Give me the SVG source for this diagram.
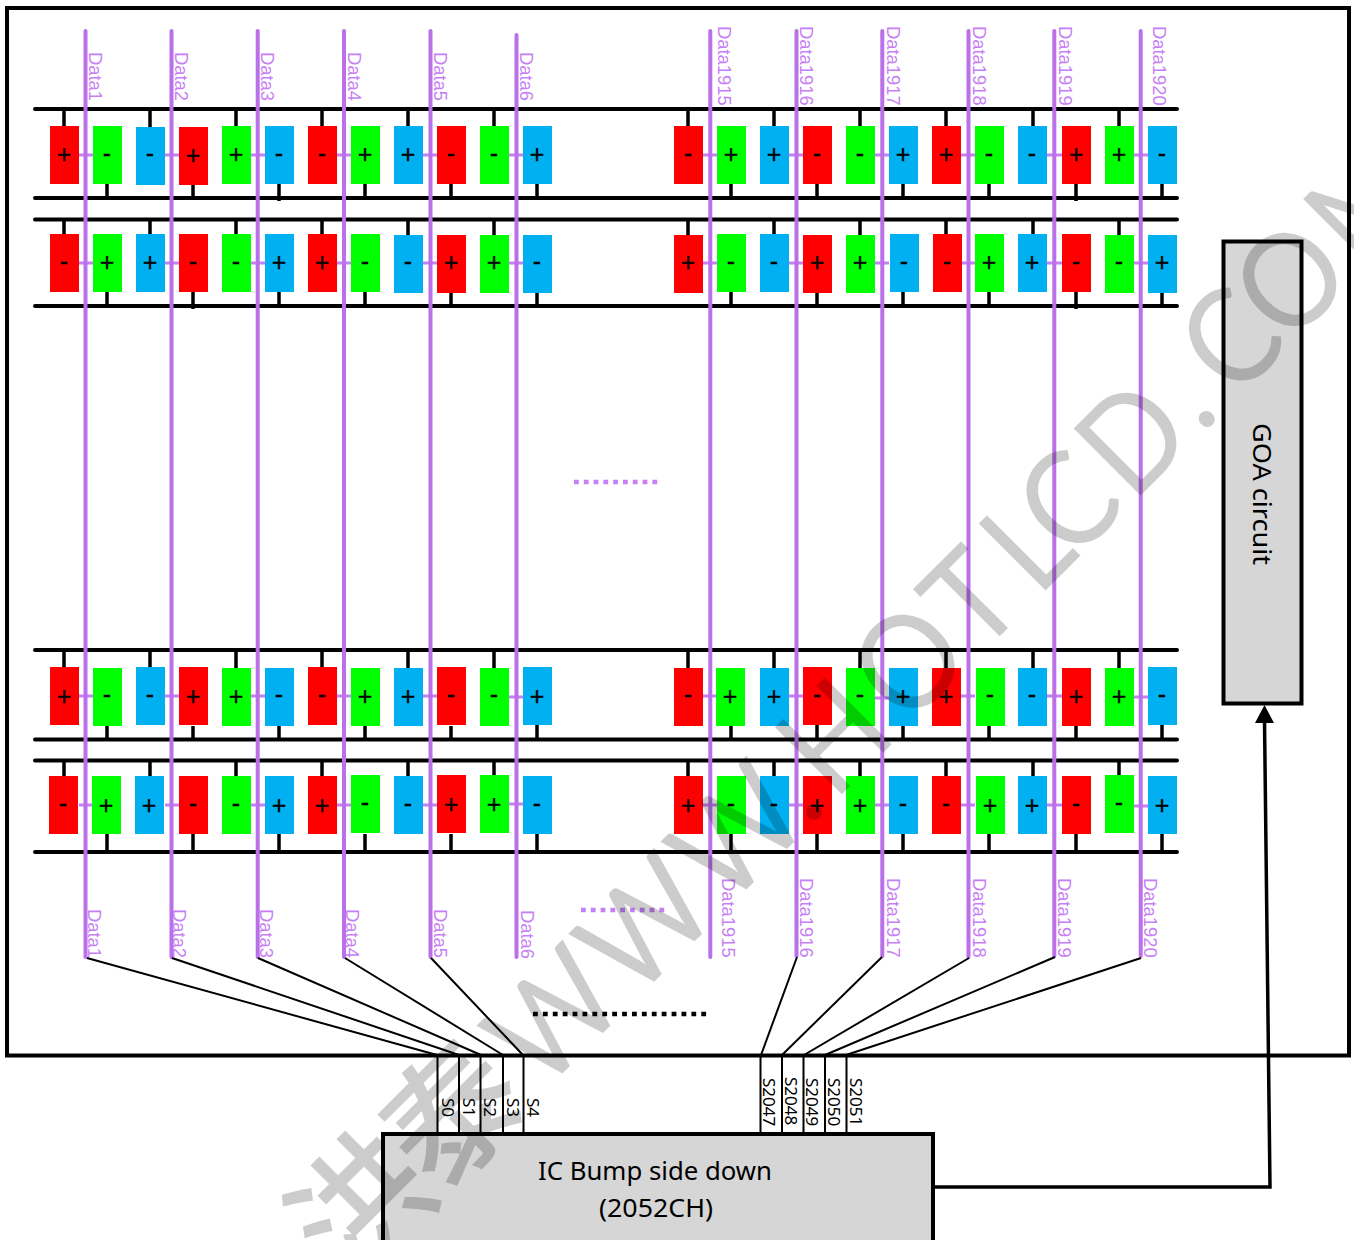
<svg xmlns="http://www.w3.org/2000/svg" width="1354" height="1240" viewBox="0 0 1354 1240">
<style>
.r{fill:#f00}.g{fill:#0f0}.b{fill:#00b0f0}
.box rect{width:29px;height:58px}
.box text{font-family:"Liberation Sans",Arial,sans-serif;font-size:25px;text-anchor:middle;fill:#000;stroke:#000;stroke-width:.3}
.bus{stroke:#000;stroke-width:4;stroke-linecap:round;fill:none}
.stub{stroke:#000;stroke-width:3.5;fill:none}
.rung{stroke:#c77ff5;stroke-width:3;fill:none}
.data{stroke:#ba70e8;stroke-width:4;fill:none;stroke-linecap:round}
.thin{stroke:#000;stroke-width:2;fill:none}
.lab{font-family:"Liberation Sans",Arial,sans-serif;font-size:18.4px;fill:#c77ff5}
.sl{font-family:"Noto Sans",sans-serif;font-size:17px;fill:#000}
.big{font-family:"Noto Sans",sans-serif;font-size:26px;fill:#000;text-anchor:middle}
.blk{fill:#d6d6d6;stroke:#000;stroke-width:4}
.wm{font-family:"Lato","Liberation Sans",sans-serif;font-size:132px;font-weight:400;fill:#000;fill-opacity:.2}
.wz{font-family:"Noto Sans CJK SC",sans-serif;font-size:135px;font-weight:500;fill:#000;fill-opacity:.2}
</style>
<rect width="1354" height="1240" fill="#fff"/>
<rect x="7" y="8" width="1342" height="1047.5" fill="none" stroke="#000" stroke-width="4"/>
<g id="connectors">
<path class="bus" d="M35 109H1177M35 198H1177M35 219.500H1177M35 306H1177M35 650H1177M35 739.500H1177M35 760.500H1177M35 852H1177"/>
<path class="stub" d="M64 109V126M150 109V127M236 109V126M322 109V126M408 109V126M494 109V126M688 109V126M774 109V126M860 109V126M946 109V126M1033 109V126M1119 109V126M107 184V198M193 185V198M279 184V201M365 184V198M451 184V198M537 184V198M731 184V198M817 184V198M903 184V198M989 184V198M1076 184V201M1162 184V198"/>
<path class="stub" d="M64 219V234M150 219V234M236 219V234M322 219V234M408 219V235M494 219V235M688 219V235M774 219V234M860 219V235M946 219V234M1033 219V235M1119 219V235M107 292V306M193 292V309M279 292V306M365 292V306M451 292V306M537 292V306M731 292V306M817 292V306M903 292V306M989 292V306M1076 292V309M1162 292V306"/>
<path class="stub" d="M64 650V668M150 650V668M236 650V668M322 650V668M408 650V668M494 650V668M688 650V668M774 650V668M860 650V668M946 650V668M1033 650V668M1119 650V668M107 726V739M193 726V739M279 726V739M365 726V739M451 726V739M537 725V739M731 726V739M817 725V741M903 726V739M989 726V741M1076 726V739M1162 725V739"/>
<path class="stub" d="M64 760V776M150 760V776M236 760V776M322 760V776M408 760V776M494 760V775M688 760V776M774 760V776M860 760V776M946 760V776M1033 760V776M1119 760V775M107 834V852M193 834V852M279 834V852M365 834V852M451 834V852M537 834V852M731 834V852M817 834V852M903 834V852M989 834V852M1076 834V852M1162 834V852"/>
<path class="rung" d="M79 155H93M165 155H179M251 155H265M337 155H351M423 155H437M509 155H523M703 155H717M789 155H803M875 155H889M961 155H975M1047 155H1062M1134 155H1148"/>
<path class="rung" d="M79 263H93M165 263H179M251 263H265M337 263H351M423 263H437M509 263H523M703 263H717M789 263H803M875 263H889M961 263H975M1047 263H1062M1134 263H1148"/>
<path class="rung" d="M79 696H93M165 696H179M251 696H265M337 696H351M423 696H437M509 697H523M703 696H717M789 696H803M875 698H889M961 696H975M1047 696H1062M1134 697H1148"/>
<path class="rung" d="M79 805H93M165 805H179M251 805H265M337 805H351M423 805H437M509 804H523M703 805H717M789 805H803M875 805H889M961 805H975M1047 805H1062M1134 806H1148"/>
<path class="data" d="M85.500 31V957M171.500 31V957M257.700 31V957M344 31V957M430.500 31V957M516.500 35V957M710.300 31V957M796.500 31V956M882.300 31V956M968.500 31V957M1054.300 31V956M1140.700 31V956"/>
<path class="thin" d="M87 958L437 1055M172 958L459 1055M258 958L481 1055M345 958L503 1055M431 958L523 1055M797 957L761 1055M882 957L782 1055M969 958L804 1055M1055 957L825 1055M1141 958L846 1055"/>
<path class="thin" d="M437.500 1056V1134M459 1056V1134M480.500 1056V1134M503 1056V1134M523.500 1056V1134M760.500 1056V1134M782 1056V1134M803.500 1056V1134M825 1056V1134M846.500 1056V1134"/>
<path d="M933 1187H1270L1264.500 720" fill="none" stroke="#000" stroke-width="3.500"/>
<polygon points="1264.500,705 1255,723 1274,723" fill="#000"/>
<path d="M574 482H662" fill="none" stroke="#c77ff5" stroke-width="4.500" stroke-dasharray="4.800 5"/>
<path d="M581 910H668" fill="none" stroke="#c77ff5" stroke-width="4.500" stroke-dasharray="4.800 5"/>
<path d="M533 1014H711" fill="none" stroke="#000" stroke-width="4.500" stroke-dasharray="4.800 5.100"/>
</g>
<g id="row1" class="box">
<g id="n1-1" transform="translate(50 126)"><rect class="r"/><text x="14" y="37">+</text></g>
<g id="n1-2" transform="translate(93 126)"><rect class="g"/><text x="14" y="36">-</text></g>
<g id="n1-3" transform="translate(136 127)"><rect class="b"/><text x="14" y="35">-</text></g>
<g id="n1-4" transform="translate(179 127)"><rect class="r"/><text x="14" y="37">+</text></g>
<g id="n1-5" transform="translate(222 126)"><rect class="g"/><text x="14" y="37">+</text></g>
<g id="n1-6" transform="translate(265 126)"><rect class="b"/><text x="14" y="36">-</text></g>
<g id="n1-7" transform="translate(308 126)"><rect class="r"/><text x="14" y="36">-</text></g>
<g id="n1-8" transform="translate(351 126)"><rect class="g"/><text x="14" y="37">+</text></g>
<g id="n1-9" transform="translate(394 126)"><rect class="b"/><text x="14" y="37">+</text></g>
<g id="n1-10" transform="translate(437 126)"><rect class="r"/><text x="14" y="36">-</text></g>
<g id="n1-11" transform="translate(480 126)"><rect class="g"/><text x="14" y="36">-</text></g>
<g id="n1-12" transform="translate(523 126)"><rect class="b"/><text x="14" y="37">+</text></g>
<g id="n1-13" transform="translate(674 126)"><rect class="r"/><text x="14" y="36">-</text></g>
<g id="n1-14" transform="translate(717 126)"><rect class="g"/><text x="14" y="37">+</text></g>
<g id="n1-15" transform="translate(760 126)"><rect class="b"/><text x="14" y="37">+</text></g>
<g id="n1-16" transform="translate(803 126)"><rect class="r"/><text x="14" y="36">-</text></g>
<g id="n1-17" transform="translate(846 126)"><rect class="g"/><text x="14" y="36">-</text></g>
<g id="n1-18" transform="translate(889 126)"><rect class="b"/><text x="14" y="37">+</text></g>
<g id="n1-19" transform="translate(932 126)"><rect class="r"/><text x="14" y="37">+</text></g>
<g id="n1-20" transform="translate(975 126)"><rect class="g"/><text x="14" y="36">-</text></g>
<g id="n1-21" transform="translate(1018 126)"><rect class="b"/><text x="14" y="36">-</text></g>
<g id="n1-22" transform="translate(1062 126)"><rect class="r"/><text x="14" y="37">+</text></g>
<g id="n1-23" transform="translate(1105 126)"><rect class="g"/><text x="14" y="37">+</text></g>
<g id="n1-24" transform="translate(1148 126)"><rect class="b"/><text x="14" y="36">-</text></g>
</g>
<g id="row2" class="box">
<g id="n2-1" transform="translate(50 234)"><rect class="r"/><text x="14" y="36">-</text></g>
<g id="n2-2" transform="translate(93 234)"><rect class="g"/><text x="14" y="37">+</text></g>
<g id="n2-3" transform="translate(136 234)"><rect class="b"/><text x="14" y="37">+</text></g>
<g id="n2-4" transform="translate(179 234)"><rect class="r"/><text x="14" y="36">-</text></g>
<g id="n2-5" transform="translate(222 234)"><rect class="g"/><text x="14" y="36">-</text></g>
<g id="n2-6" transform="translate(265 234)"><rect class="b"/><text x="14" y="37">+</text></g>
<g id="n2-7" transform="translate(308 234)"><rect class="r"/><text x="14" y="37">+</text></g>
<g id="n2-8" transform="translate(351 234)"><rect class="g"/><text x="14" y="36">-</text></g>
<g id="n2-9" transform="translate(394 235)"><rect class="b"/><text x="14" y="35">-</text></g>
<g id="n2-10" transform="translate(437 235)"><rect class="r"/><text x="14" y="36">+</text></g>
<g id="n2-11" transform="translate(480 235)"><rect class="g"/><text x="14" y="36">+</text></g>
<g id="n2-12" transform="translate(523 235)"><rect class="b"/><text x="14" y="35">-</text></g>
<g id="n2-13" transform="translate(674 235)"><rect class="r"/><text x="14" y="36">+</text></g>
<g id="n2-14" transform="translate(717 234)"><rect class="g"/><text x="14" y="36">-</text></g>
<g id="n2-15" transform="translate(760 234)"><rect class="b"/><text x="14" y="36">-</text></g>
<g id="n2-16" transform="translate(803 235)"><rect class="r"/><text x="14" y="36">+</text></g>
<g id="n2-17" transform="translate(846 235)"><rect class="g"/><text x="14" y="36">+</text></g>
<g id="n2-18" transform="translate(890 234)"><rect class="b"/><text x="14" y="36">-</text></g>
<g id="n2-19" transform="translate(933 234)"><rect class="r"/><text x="14" y="36">-</text></g>
<g id="n2-20" transform="translate(975 234)"><rect class="g"/><text x="14" y="37">+</text></g>
<g id="n2-21" transform="translate(1018 234)"><rect class="b"/><text x="14" y="37">+</text></g>
<g id="n2-22" transform="translate(1062 234)"><rect class="r"/><text x="14" y="36">-</text></g>
<g id="n2-23" transform="translate(1105 235)"><rect class="g"/><text x="14" y="35">-</text></g>
<g id="n2-24" transform="translate(1148 235)"><rect class="b"/><text x="14" y="36">+</text></g>
</g>
<g id="row3" class="box">
<g id="n3-1" transform="translate(50 667)"><rect class="r"/><text x="14" y="38">+</text></g>
<g id="n3-2" transform="translate(93 668)"><rect class="g"/><text x="14" y="35">-</text></g>
<g id="n3-3" transform="translate(136 667)"><rect class="b"/><text x="14" y="36">-</text></g>
<g id="n3-4" transform="translate(179 667)"><rect class="r"/><text x="14" y="38">+</text></g>
<g id="n3-5" transform="translate(222 668)"><rect class="g"/><text x="14" y="37">+</text></g>
<g id="n3-6" transform="translate(265 668)"><rect class="b"/><text x="14" y="35">-</text></g>
<g id="n3-7" transform="translate(308 667)"><rect class="r"/><text x="14" y="36">-</text></g>
<g id="n3-8" transform="translate(351 668)"><rect class="g"/><text x="14" y="37">+</text></g>
<g id="n3-9" transform="translate(394 668)"><rect class="b"/><text x="14" y="37">+</text></g>
<g id="n3-10" transform="translate(437 667)"><rect class="r"/><text x="14" y="36">-</text></g>
<g id="n3-11" transform="translate(480 668)"><rect class="g"/><text x="14" y="35">-</text></g>
<g id="n3-12" transform="translate(523 667)"><rect class="b"/><text x="14" y="38">+</text></g>
<g id="n3-13" transform="translate(674 668)"><rect class="r"/><text x="14" y="35">-</text></g>
<g id="n3-14" transform="translate(716 668)"><rect class="g"/><text x="14" y="37">+</text></g>
<g id="n3-15" transform="translate(760 668)"><rect class="b"/><text x="14" y="37">+</text></g>
<g id="n3-16" transform="translate(803 667)"><rect class="r"/><text x="14" y="36">-</text></g>
<g id="n3-17" transform="translate(846 668)"><rect class="g"/><text x="14" y="35">-</text></g>
<g id="n3-18" transform="translate(889 668)"><rect class="b"/><text x="14" y="37">+</text></g>
<g id="n3-19" transform="translate(932 668)"><rect class="r"/><text x="14" y="37">+</text></g>
<g id="n3-20" transform="translate(976 668)"><rect class="g"/><text x="14" y="35">-</text></g>
<g id="n3-21" transform="translate(1018 668)"><rect class="b"/><text x="14" y="35">-</text></g>
<g id="n3-22" transform="translate(1062 668)"><rect class="r"/><text x="14" y="37">+</text></g>
<g id="n3-23" transform="translate(1105 668)"><rect class="g"/><text x="14" y="37">+</text></g>
<g id="n3-24" transform="translate(1148 667)"><rect class="b"/><text x="14" y="36">-</text></g>
</g>
<g id="row4" class="box">
<g id="n4-1" transform="translate(49 776)"><rect class="r"/><text x="14" y="36">-</text></g>
<g id="n4-2" transform="translate(92 776)"><rect class="g"/><text x="14" y="38">+</text></g>
<g id="n4-3" transform="translate(135 776)"><rect class="b"/><text x="14" y="38">+</text></g>
<g id="n4-4" transform="translate(179 776)"><rect class="r"/><text x="14" y="36">-</text></g>
<g id="n4-5" transform="translate(222 776)"><rect class="g"/><text x="14" y="36">-</text></g>
<g id="n4-6" transform="translate(265 776)"><rect class="b"/><text x="14" y="38">+</text></g>
<g id="n4-7" transform="translate(308 776)"><rect class="r"/><text x="14" y="38">+</text></g>
<g id="n4-8" transform="translate(351 775)"><rect class="g"/><text x="14" y="36">-</text></g>
<g id="n4-9" transform="translate(394 776)"><rect class="b"/><text x="14" y="36">-</text></g>
<g id="n4-10" transform="translate(437 775)"><rect class="r"/><text x="14" y="38">+</text></g>
<g id="n4-11" transform="translate(480 775)"><rect class="g"/><text x="14" y="38">+</text></g>
<g id="n4-12" transform="translate(523 776)"><rect class="b"/><text x="14" y="36">-</text></g>
<g id="n4-13" transform="translate(674 776)"><rect class="r"/><text x="14" y="38">+</text></g>
<g id="n4-14" transform="translate(717 776)"><rect class="g"/><text x="14" y="36">-</text></g>
<g id="n4-15" transform="translate(760 776)"><rect class="b"/><text x="14" y="36">-</text></g>
<g id="n4-16" transform="translate(803 776)"><rect class="r"/><text x="14" y="38">+</text></g>
<g id="n4-17" transform="translate(846 776)"><rect class="g"/><text x="14" y="38">+</text></g>
<g id="n4-18" transform="translate(889 776)"><rect class="b"/><text x="14" y="36">-</text></g>
<g id="n4-19" transform="translate(932 776)"><rect class="r"/><text x="14" y="36">-</text></g>
<g id="n4-20" transform="translate(976 776)"><rect class="g"/><text x="14" y="38">+</text></g>
<g id="n4-21" transform="translate(1018 776)"><rect class="b"/><text x="14" y="38">+</text></g>
<g id="n4-22" transform="translate(1062 776)"><rect class="r"/><text x="14" y="36">-</text></g>
<g id="n4-23" transform="translate(1105 775)"><rect class="g"/><text x="14" y="36">-</text></g>
<g id="n4-24" transform="translate(1148 776)"><rect class="b"/><text x="14" y="38">+</text></g>
</g>
<g id="data-labels-top" class="lab">
<text transform="translate(89 52) rotate(90)">Data1</text>
<text transform="translate(175 52) rotate(90)">Data2</text>
<text transform="translate(261 52) rotate(90)">Data3</text>
<text transform="translate(348 52) rotate(90)">Data4</text>
<text transform="translate(434 52) rotate(90)">Data5</text>
<text transform="translate(520 52) rotate(90)">Data6</text>
<text transform="translate(718 26) rotate(90)">Data1915</text>
<text transform="translate(800 26) rotate(90)">Data1916</text>
<text transform="translate(887 26) rotate(90)">Data1917</text>
<text transform="translate(973 26) rotate(90)">Data1918</text>
<text transform="translate(1059 26) rotate(90)">Data1919</text>
<text transform="translate(1153 26) rotate(90)">Data1920</text>
</g>
<g id="data-labels-bottom" class="lab">
<text transform="translate(88 909) rotate(90)">Data1</text>
<text transform="translate(173 909) rotate(90)">Data2</text>
<text transform="translate(260 909) rotate(90)">Data3</text>
<text transform="translate(346 909) rotate(90)">Data4</text>
<text transform="translate(434 909) rotate(90)">Data5</text>
<text transform="translate(521 910) rotate(90)">Data6</text>
<text transform="translate(722 878) rotate(90)">Data1915</text>
<text transform="translate(800 878) rotate(90)">Data1916</text>
<text transform="translate(887 878) rotate(90)">Data1917</text>
<text transform="translate(973 878) rotate(90)">Data1918</text>
<text transform="translate(1058 878) rotate(90)">Data1919</text>
<text transform="translate(1144 878) rotate(90)">Data1920</text>
</g>
<g id="source-labels" class="sl">
<text transform="translate(442 1098) rotate(90)">S0</text>
<text transform="translate(463 1098) rotate(90)">S1</text>
<text transform="translate(484 1098) rotate(90)">S2</text>
<text transform="translate(507 1098) rotate(90)">S3</text>
<text transform="translate(527 1098) rotate(90)">S4</text>
<text transform="translate(763 1078) rotate(90)">S2047</text>
<text transform="translate(785 1077) rotate(90)">S2048</text>
<text transform="translate(806 1078) rotate(90)">S2049</text>
<text transform="translate(828 1078) rotate(90)">S2050</text>
<text transform="translate(850 1078) rotate(90)">S2051</text>
</g>
<g id="ic">
<rect class="blk" x="383" y="1134" width="550" height="130"/>
<text class="big" x="655" y="1180" textLength="234" lengthAdjust="spacingAndGlyphs">IC Bump side down</text>
<text class="big" x="656" y="1217" textLength="114" lengthAdjust="spacingAndGlyphs">(2052CH)</text>
</g>
<g id="goa">
<rect class="blk" x="1223.500" y="241.500" width="78" height="462"/>
<text class="big" transform="translate(1253 494) rotate(90)" textLength="142" lengthAdjust="spacingAndGlyphs">GOA circuit</text>
</g>
<g id="watermark">
<text class="wz" transform="translate(542 1094) rotate(-45)" x="-275 -145">洪泰</text>
<text class="wm" transform="translate(542 1094) rotate(-45) scale(.92 1)" x="0 141 283 410 449 561 671 762 815 908 1014 1065 1148 1261">WWW.HOTLCD.COM</text>
</g>
</svg>
